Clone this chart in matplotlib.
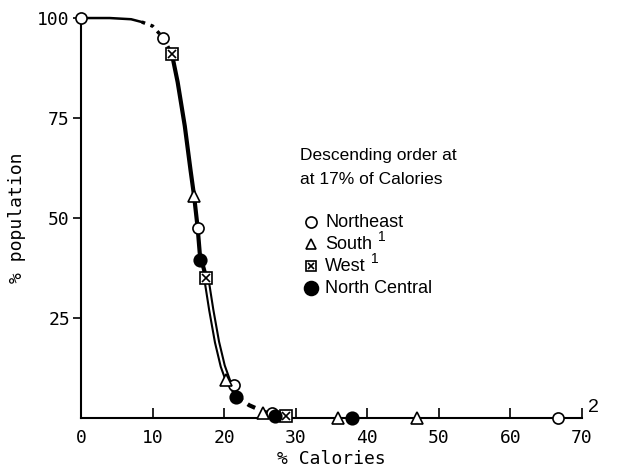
import matplotlib.pyplot as plt

# curve segments
top_x = [0, 4, 7, 8.5]
top_y = [100, 100, 99.7, 99]
dot_x = [8.5, 10, 11.5, 12.7]
dot_y = [99, 98, 95, 91]
main_x = [12.7, 13.5, 14.5, 15.3, 15.8, 16.3, 16.6, 17.5]
main_y = [91, 84, 73, 62, 55.5, 47.5, 41, 35]
double_x = [17.5, 18.2, 19.0, 19.8, 20.6]
double_y = [35, 27, 19, 13, 9]
tail_x = [20.6, 21.6]
tail_y = [9, 5.5]
dash_x = [21.6, 23.5, 25.5, 27.5]
dash_y = [5.5, 3.2, 1.6, 0.5]

# region points
ne_x = [0, 11.5, 16.3, 21.4, 26.7, 66.6]
ne_y = [100, 95, 47.5, 8.3, 1.2, 0]
so_x = [15.8, 20.3, 25.4, 35.9, 46.9]
so_y = [55.5, 9.5, 1.2, 0, 0]
we_x = [12.7, 17.5, 28.6]
we_y = [91, 35, 0.6]
nc_x = [16.6, 21.6, 27.1, 37.8]
nc_y = [39.5, 5.3, 0.5, 0]

xticks = [0, 10, 20, 30, 40, 50, 60, 70]
yticks = [25, 50, 75, 100]

legend_title = ['Descending order at', 'at 17% of Calories']
legend_names = ['Northeast', 'South', 'West', 'North Central']

mono = 'DejaVu Sans Mono'
sans = 'Liberation Sans'

fig = plt.figure(figsize=(6.17, 4.76), dpi=100)
ax = fig.add_axes([0.1313, 0.1218, 0.812, 0.8403])

ax.plot(top_x, top_y, color='black', lw=1.8, clip_on=False)
ax.plot(dot_x, dot_y, color='black', lw=2.5, ls=':', clip_on=False)
ax.plot(main_x, main_y, color='black', lw=3, clip_on=False)
ax.plot(double_x, double_y, color='black', lw=4.5, clip_on=False)
ax.plot(double_x, double_y, color='white', lw=1.5, clip_on=False)
ax.plot(tail_x, tail_y, color='black', lw=2.5, clip_on=False)
ax.plot(dash_x, dash_y, color='black', lw=3, ls=(0, (2, 1.5)), clip_on=False)

mk = dict(ls='none', mec='black', mew=1.2, clip_on=False, zorder=5)
ax.plot(ne_x, ne_y, marker='o', ms=8, mfc='white', **mk)
ax.plot(so_x, so_y, marker='^', ms=8, mfc='white', **mk)
ax.plot(we_x, we_y, marker='s', ms=8, mfc='white', **mk)
ax.plot(we_x, we_y, marker='x', ms=6, mfc='white', **mk)
ax.plot(nc_x, nc_y, marker='o', ms=9, mfc='black', **mk)

ax.set_xlim(0, 70)
ax.set_ylim(0, 100)
ax.spines['top'].set_visible(False)
ax.spines['right'].set_visible(False)
ax.spines['left'].set_linewidth(1.5)
ax.spines['bottom'].set_linewidth(1.5)
ax.set_xticks(xticks)
ax.set_yticks(yticks)
ax.tick_params(axis='x', direction='in', length=7, width=1.2, pad=8)
ax.tick_params(axis='y', direction='out', length=6, width=1.2, pad=2)
for lab in ax.get_xticklabels() + ax.get_yticklabels():
    lab.set_fontfamily(mono)
    lab.set_fontsize(13)
ax.set_xlabel('% Calories', fontfamily=mono, fontsize=13, labelpad=2)
ax.set_ylabel('% population', fontfamily=mono, fontsize=13, labelpad=8)
ax.text(70.8, 0.6, '2', fontfamily=sans, fontsize=14, va='bottom')

# legend
for line, yy in zip(legend_title, [0.657, 0.597]):
    ax.text(0.438, yy, line, transform=ax.transAxes, fontfamily=sans,
            fontsize=12.5, va='center')
leg_y = [0.49, 0.435, 0.38, 0.325]
leg_m = [dict(marker='o', ms=8, mfc='white'), dict(marker='^', ms=7, mfc='white'),
         dict(marker='s', ms=7, mfc='white'), dict(marker='o', ms=10, mfc='black')]
for name, yy, m in zip(legend_names, leg_y, leg_m):
    ax.plot([0.46], [yy], transform=ax.transAxes, **m, **mk)
    if name == 'West':
        ax.plot([0.46], [yy], transform=ax.transAxes, marker='x', ms=5, **mk)
    t = ax.text(0.487, yy, name, transform=ax.transAxes, fontfamily=sans,
                fontsize=13, va='center')
    if name in ('South', 'West'):
        ax.annotate('1', xy=(1, 0.5), xycoords=t, xytext=(4, 0),
                    textcoords='offset points', fontfamily=sans, fontsize=10,
                    va='bottom')

fig.savefig('out.png', dpi=100)
